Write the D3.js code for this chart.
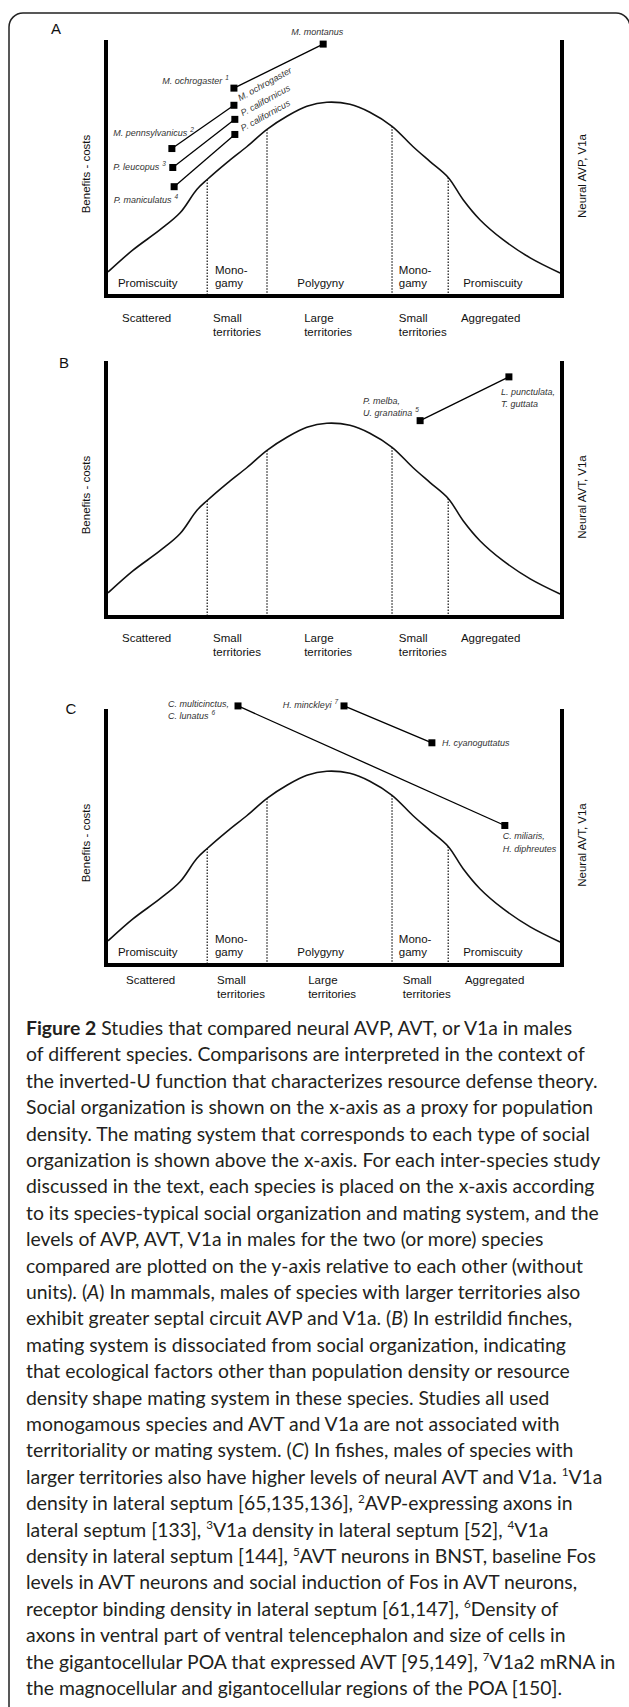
<!DOCTYPE html>
<html>
<head>
<meta charset="utf-8">
<script src="https://cdn.jsdelivr.net/npm/d3@7"></script>
<style>
  body { margin: 0; background: #fff; }
  svg { display: block; }
</style>
</head>
<body>
<div id="fig"></div>
<script>
// inverted-U (benefits - costs), both axes in 0-100 units
var curveX = [0, 5.5, 11.5, 15.9, 19.6, 21.9, 26.3, 30.7, 35.1, 39.5, 43.9, 48.3,
              53.4, 57.8, 62.7, 67.3, 71.1, 75.1, 78.4, 82.1, 87.2, 93.2, 99.8];
var curveY = [9.4, 18.0, 25.9, 32.5, 41.6, 45.5, 52.2, 58.4, 65.1, 70.2, 74.1, 75.7,
              74.9, 71.8, 66.3, 58.4, 52.5, 46.3, 37.6, 29.8, 22.0, 14.9, 9.0];

// dotted borders between mating systems, and the curve height where they stop
var boundaryX = [21.9, 35.1, 62.7, 75.1];
var boundaryY = [45.5, 65.1, 66.3, 46.3];

var matingLabels = [['Promiscuity'], ['Mono-', 'gamy'], ['Polygyny'], ['Mono-', 'gamy'], ['Promiscuity']];
var matingX = [2.2, 23.6, 41.8, 64.2, 78.4];

var socialLabels = [['Scattered'], ['Small', 'territories'], ['Large', 'territories'],
                    ['Small', 'territories'], ['Aggregated']];
var socialX = [3.1, 23.2, 43.3, 64.2, 77.9];

var mammals = [
    {name: ['M. ochrogaster'], ref: '1', x: 27.8, y: 81.2},
    {name: ['M. montanus'], x: 47.5, y: 98.4},
    {name: ['M. pennsylvanicus'], ref: '2', x: 14.1, y: 57.6},
    {name: ['M. ochrogaster'], x: 27.8, y: 74.5},
    {name: ['P. leucopus'], ref: '3', x: 14.3, y: 50.2},
    {name: ['P. californicus'], x: 28.0, y: 69.0},
    {name: ['P. maniculatus'], ref: '4', x: 14.6, y: 42.7},
    {name: ['P. californicus'], x: 28.0, y: 63.1}
];
var mammalLinks = [[0, 1], [2, 3], [4, 5], [6, 7]];

var finches = [
    {name: ['P. melba,', 'U. granatina'], ref: '5', x: 68.9, y: 76.7},
    {name: ['L. punctulata,', 'T. guttata'], x: 88.5, y: 93.8}
];
var finchLinks = [[0, 1]];

var fishes = [
    {name: ['C. multicinctus,', 'C. lunatus'], ref: '6', x: 28.7, y: 101.2},
    {name: ['C. miliaris,', 'H. diphreutes'], x: 87.6, y: 54.5},
    {name: ['H. minckleyi'], ref: '7', x: 52.1, y: 101.2},
    {name: ['H. cyanoguttatus'], x: 71.5, y: 86.8}
];
var fishLinks = [[0, 1], [2, 3]];

var captionLines = [
    '**Figure 2** Studies that compared neural AVP, AVT, or V1a in males',
    'of different species. Comparisons are interpreted in the context of',
    'the inverted-U function that characterizes resource defense theory.',
    'Social organization is shown on the x-axis as a proxy for population',
    'density. The mating system that corresponds to each type of social',
    'organization is shown above the x-axis. For each inter-species study',
    'discussed in the text, each species is placed on the x-axis according',
    'to its species-typical social organization and mating system, and the',
    'levels of AVP, AVT, V1a in males for the two (or more) species',
    'compared are plotted on the y-axis relative to each other (without',
    'units). (_A_) In mammals, males of species with larger territories also',
    'exhibit greater septal circuit AVP and V1a. (_B_) In estrildid finches,',
    'mating system is dissociated from social organization, indicating',
    'that ecological factors other than population density or resource',
    'density shape mating system in these species. Studies all used',
    'monogamous species and AVT and V1a are not associated with',
    'territoriality or mating system. (_C_) In fishes, males of species with',
    'larger territories also have higher levels of neural AVT and V1a. ^1V1a',
    'density in lateral septum [65,135,136], ^2AVP-expressing axons in',
    'lateral septum [133], ^3V1a density in lateral septum [52], ^4V1a',
    'density in lateral septum [144], ^5AVT neurons in BNST, baseline Fos',
    'levels in AVT neurons and social induction of Fos in AVT neurons,',
    'receptor binding density in lateral septum [61,147], ^6Density of',
    'axons in ventral part of ventral telencephalon and size of cells in',
    'the gigantocellular POA that expressed AVT [95,149], ^7V1a2 mRNA in',
    'the magnocellular and gigantocellular regions of the POA [150].'
];

var width = 629,
    height = 1707,
    plotH = 256,
    font = 'Liberation Sans, Arial, sans-serif';

// label placement per species: [anchor, dx, dy, rotate]
var panels = [
    {id: 'A', bottom: 296, letter: [56, 34], right: 'Neural AVP,  V1a', mating: true,
     species: mammals, links: mammalLinks, socialDx: 0, socialDy: 26,
     place: [['end', -5, -4], ['middle', -6, -9], ['end', 22, -13], ['start', 6, -4, -29],
             ['end', -7, 3], ['start', 8, -3, -29], ['end', 4, 16], ['start', 8, -3, -29]]},
    {id: 'B', bottom: 617, letter: [64, 368], right: 'Neural AVT,  V1a', mating: false,
     species: finches, links: finchLinks, socialDx: 0, socialDy: 25,
     place: [['start', -57, -17], ['start', -8, 18]]},
    {id: 'C', bottom: 965, letter: [71, 714], right: 'Neural AVT,  V1a', mating: true,
     species: fishes, links: fishLinks, socialDx: 4, socialDy: 19,
     place: [['start', -70, 1], ['start', -2, 14], ['end', -6, 2], ['start', 10, 3]]}
];

var svg = d3.select('#fig')
    .append('svg')
    .attr('width', width)
    .attr('height', height);

svg.append('rect')
    .attr('width', width)
    .attr('height', height)
    .attr('fill', '#fff');

// outer frame, cut off on the right and bottom
svg.append('rect')
    .attr('x', 9)
    .attr('y', 13)
    .attr('width', 621)
    .attr('height', 1760)
    .attr('rx', 14)
    .attr('fill', 'none')
    .attr('stroke', '#222')
    .attr('stroke-width', 1.5);

var x = d3.scaleLinear().domain([0, 100]).range([108, 561]);

var curve = d3.line()
    .x(d => x(d[0]))
    .y(d => d[1])
    .curve(d3.curveCatmullRom.alpha(0.5));

panels.forEach(function(p){

    var y = d3.scaleLinear().domain([0, 100]).range([p.bottom, p.bottom - plotH]),
        g = svg.append('g'),
        top = y(100),
        mid = (y(0) + y(100)) / 2;

    g.append('text')
        .text(p.id)
        .attr('x', p.letter[0])
        .attr('y', p.letter[1])
        .attr('text-anchor', 'middle')
        .attr('font-family', font)
        .attr('font-size', '15px')
        .attr('fill', '#111');

    // dotted zone borders
    g.append('g')
        .selectAll('line')
        .data(boundaryX)
        .enter()
        .append('line')
        .attr('x1', d => x(d))
        .attr('x2', d => x(d))
        .attr('y1', (d, i) => y(boundaryY[i]))
        .attr('y2', y(0))
        .style('stroke', '#111')
        .style('stroke-width', 1.2)
        .style('stroke-dasharray', '1.5,1.5');

    g.append('path')
        .datum(d3.zip(curveX, curveY.map(v => y(v))))
        .attr('d', curve)
        .attr('fill', 'none')
        .style('stroke', '#111')
        .style('stroke-width', 1.6);

    // thick axes
    g.append('path')
        .attr('d', 'M' + (x(0) - 2) + ',' + top + 'V' + y(0) + 'H' + (x(100) + 1) + 'V' + top)
        .attr('fill', 'none')
        .style('stroke', '#000')
        .style('stroke-width', 4)
        .style('stroke-linejoin', 'miter');

    g.append('text')
        .text('Benefits - costs')
        .attr('transform', 'translate(90,' + (mid + 6) + ') rotate(-90)')
        .attr('text-anchor', 'middle')
        .attr('font-family', font)
        .attr('font-size', '11.5px')
        .attr('fill', '#111');

    g.append('text')
        .text(p.right)
        .attr('transform', 'translate(586,' + (mid + 8) + ') rotate(-90)')
        .attr('text-anchor', 'middle')
        .attr('font-family', font)
        .attr('font-size', '11.5px')
        .attr('fill', '#111');

    if (p.mating){
        g.append('g')
            .selectAll('text')
            .data(matingLabels)
            .enter()
            .append('text')
            .attr('font-family', font)
            .attr('font-size', '11.5px')
            .attr('fill', '#111')
            .each(function(d, i){
                var t = d3.select(this);
                d.forEach(function(s, j){
                    t.append('tspan')
                        .attr('x', x(matingX[i]))
                        .attr('y', y(0) - 9.5 - (d.length - 1 - j) * 13)
                        .text(s);
                });
            });
    }

    g.append('g')
        .selectAll('text')
        .data(socialLabels)
        .enter()
        .append('text')
        .attr('font-family', font)
        .attr('font-size', '11.5px')
        .attr('fill', '#111')
        .each(function(d, i){
            var t = d3.select(this);
            d.forEach(function(s, j){
                t.append('tspan')
                    .attr('x', x(socialX[i]) + p.socialDx)
                    .attr('y', y(0) + p.socialDy + j * 13.5)
                    .text(s);
            });
        });

    // species comparisons
    g.append('g')
        .selectAll('line')
        .data(p.links)
        .enter()
        .append('line')
        .attr('x1', d => x(p.species[d[0]].x))
        .attr('y1', d => y(p.species[d[0]].y))
        .attr('x2', d => x(p.species[d[1]].x))
        .attr('y2', d => y(p.species[d[1]].y))
        .style('stroke', '#000')
        .style('stroke-width', 1.3);

    g.append('g')
        .selectAll('rect')
        .data(p.species)
        .enter()
        .append('rect')
        .attr('x', d => x(d.x) - 3.5)
        .attr('y', d => y(d.y) - 3.5)
        .attr('width', 7)
        .attr('height', 7)
        .attr('fill', '#000');

    g.append('g')
        .selectAll('text')
        .data(p.species)
        .enter()
        .append('text')
        .attr('transform', (d, i) => 'translate(' + (x(d.x) + p.place[i][1]) + ',' +
            (y(d.y) + p.place[i][2]) + ') rotate(' + (p.place[i][3] || 0) + ')')
        .attr('text-anchor', (d, i) => p.place[i][0])
        .attr('font-family', font)
        .attr('font-style', 'italic')
        .attr('font-size', '9px')
        .attr('fill', '#333')
        .each(function(d){
            var t = d3.select(this);
            d.name.forEach(function(s, j){
                t.append('tspan')
                    .attr('x', 0)
                    .attr('y', j * 12.5)
                    .text(s);
            });
            if (d.ref){
                t.append('tspan')
                    .attr('dx', 3)
                    .attr('dy', -4)
                    .attr('font-size', '6.5px')
                    .text(d.ref);
            }
        });
});

// caption, sized so its widest line fits the text column (26 -> 616)
var capFont = 'Lato, "Open Sans", sans-serif',
    capSize = 17;

function writeLine(node, line, x0, y0, size){
    var parts = line.split(/(\*\*[^*]+\*\*|_[^_]+_|\^\d)/).filter(s => s.length),
        tl = node.append('tspan').attr('x', x0).attr('y', y0),
        raised = false;
    parts.forEach(function(s){
        var ts = tl.append('tspan');
        if (s.indexOf('**') === 0){
            ts.attr('font-weight', 'bold').text(s.slice(2, -2));
        } else if (s[0] === '_'){
            ts.attr('font-style', 'italic').text(s.slice(1, -1));
        } else if (s[0] === '^'){
            ts.attr('font-size', (size * 0.6) + 'px')
                .attr('dy', -size * 0.38)
                .text(s.slice(1));
            raised = true;
            return;
        } else {
            ts.text(s);
        }
        if (raised){
            ts.attr('dy', size * 0.38);
            raised = false;
        }
    });
    return tl;
}

var widest = d3.max(captionLines, function(line){
    var probe = svg.append('text')
        .attr('font-family', capFont)
        .attr('font-size', capSize + 'px');
    writeLine(probe, line, 0, -100, capSize);
    var w = probe.node().getBBox().width;
    probe.remove();
    return w;
});
capSize = capSize * 590 / widest;

var cap = svg.append('text')
    .attr('font-family', capFont)
    .attr('font-size', capSize + 'px')
    .attr('fill', '#231f20');

captionLines.forEach(function(line, i){
    writeLine(cap, line, 26, 1035 + i * 26.4, capSize);
});
</script>
</body>
</html>
